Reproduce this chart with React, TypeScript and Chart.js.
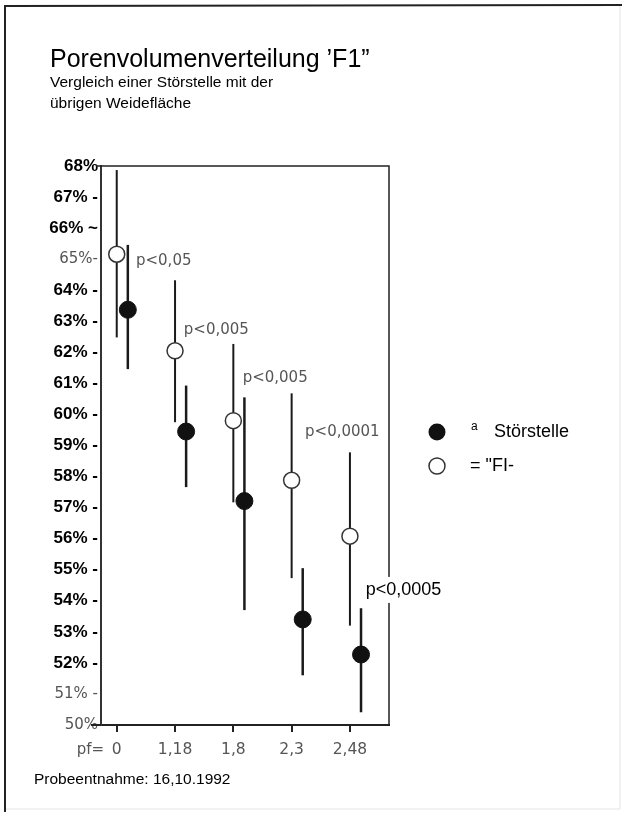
import React, { useEffect, useRef } from "react";
import { Chart, registerables } from "chart.js";
Chart.register(...registerables);

const categories = ["0", "1,18", "1,8", "2,3", "2,48"];
const weideMean = [65.16, 62.05, 59.8, 57.88, 56.08];
const weideLow = [62.48, 59.75, 57.17, 54.73, 53.2];
const weideHigh = [67.87, 64.32, 62.27, 60.68, 58.78];
const stoerMean = [63.37, 59.45, 57.21, 53.4, 52.27];
const stoerLow = [61.46, 57.66, 53.7, 51.6, 50.41];
const stoerHigh = [65.46, 60.93, 60.55, 55.05, 53.76];
const stoerOffset = 0.19;

const yTickLabels = [
  "50%", "51% -", "52% -", "53% -", "54% -", "55% -", "56% -", "57% -", "58% -", "59% -",
  "60% -", "61% -", "62% -", "63% -", "64% -", "65%-", "66% ~", "67% -", "68%",
];
const grayTicks = [50, 51, 65];

const pLabels = ["p<0,05", "p<0,005", "p<0,005", "p<0,0001", "p<0,0005"];
const pLabelX = [0.33, 1.15, 2.16, 3.23, 4.27];
const pLabelY = [64.95, 62.7, 61.16, 59.43, 54.35];

const titleText = "Porenvolumenverteilung \u2019F1\u201D";
const subtitleLines = ["Vergleich einer Störstelle mit der", "übrigen Weidefläche"];
const footText = "Probeentnahme: 16,10.1992";
const xPrefix = "pf=";

const decor = {
  id: "decor",
  beforeDatasetsDraw(chart: any) {
    const { ctx, scales } = chart;
    const x = scales.x, y = scales.y;
    ctx.save();
    ctx.lineCap = "butt";
    ctx.strokeStyle = "#1a1a1a";
    for (let i = 0; i < categories.length; i++) {
      ctx.lineWidth = 2;
      const px = x.getPixelForValue(i);
      ctx.beginPath();
      ctx.moveTo(px, y.getPixelForValue(weideHigh[i]));
      ctx.lineTo(px, y.getPixelForValue(weideLow[i]));
      ctx.stroke();
      ctx.lineWidth = 2.5;
      const qx = x.getPixelForValue(i + stoerOffset);
      ctx.beginPath();
      ctx.moveTo(qx, y.getPixelForValue(stoerHigh[i]));
      ctx.lineTo(qx, y.getPixelForValue(stoerLow[i]));
      ctx.stroke();
    }
    ctx.restore();
  },
  afterDraw(chart: any) {
    const { ctx, chartArea, scales } = chart;
    const x = scales.x, y = scales.y;
    const { left, right, top, bottom } = chartArea;
    ctx.save();
    // outer frame
    ctx.strokeStyle = "#222";
    ctx.lineWidth = 2;
    ctx.beginPath();
    ctx.moveTo(5, 812);
    ctx.lineTo(5, 6);
    ctx.lineTo(622, 5);
    ctx.stroke();
    ctx.strokeStyle = "#e4e4e4";
    ctx.lineWidth = 1;
    ctx.beginPath();
    ctx.moveTo(6, 809);
    ctx.lineTo(620, 809);
    ctx.lineTo(620, 6);
    ctx.stroke();
    // plot frame top/right
    ctx.strokeStyle = "#222";
    ctx.lineWidth = 1.5;
    ctx.beginPath();
    ctx.moveTo(left - 5, top);
    ctx.lineTo(right, top);
    ctx.lineTo(right, bottom);
    ctx.stroke();
    ctx.beginPath();
    ctx.lineWidth = 2;
    ctx.moveTo(left - 10, bottom);
    ctx.lineTo(left, bottom);
    ctx.stroke();

    // title
    ctx.fillStyle = "#000";
    ctx.textAlign = "left";
    ctx.textBaseline = "middle";
    ctx.font = "25px 'Liberation Sans', Arial, sans-serif";
    ctx.fillText(titleText, 50, 60);
    ctx.font = "15.5px 'Liberation Sans', Arial, sans-serif";
    ctx.fillText(subtitleLines[0], 50, 83);
    ctx.fillText(subtitleLines[1], 50, 104);

    // p labels
    for (let i = 0; i < pLabels.length; i++) {
      const px = x.getPixelForValue(pLabelX[i]);
      const py = y.getPixelForValue(pLabelY[i]);
      if (i === pLabels.length - 1) {
        ctx.font = "18px 'Liberation Sans', Arial, sans-serif";
        const w = ctx.measureText(pLabels[i]).width;
        ctx.fillStyle = "#fff";
        ctx.fillRect(px - 3, py - 13, w + 6, 26);
        ctx.fillStyle = "#000";
      } else {
        ctx.font = "15px 'DejaVu Sans', sans-serif";
        ctx.fillStyle = "#555";
      }
      ctx.fillText(pLabels[i], px, py);
    }

    // pf= prefix
    ctx.font = "15px 'DejaVu Sans', sans-serif";
    ctx.fillStyle = "#555";
    ctx.textAlign = "right";
    ctx.fillText(xPrefix, left + 3, bottom + 25);

    // footer
    ctx.textAlign = "left";
    ctx.fillStyle = "#000";
    ctx.font = "15.5px 'Liberation Sans', Arial, sans-serif";
    ctx.fillText(footText, 34, 780);

    // legend
    ctx.fillStyle = "#111";
    ctx.beginPath();
    ctx.arc(437, 432, 8.5, 0, Math.PI * 2);
    ctx.fill();
    ctx.strokeStyle = "#333";
    ctx.lineWidth = 1.5;
    ctx.beginPath();
    ctx.arc(437, 466, 8, 0, Math.PI * 2);
    ctx.stroke();
    ctx.fillStyle = "#000";
    ctx.font = "12px 'Liberation Sans', Arial, sans-serif";
    ctx.fillText("a", 471, 427);
    ctx.font = "18px 'Liberation Sans', Arial, sans-serif";
    ctx.fillText("Störstelle", 494, 432);
    ctx.fillText("= \"FI-", 470, 466);
    ctx.restore();
  },
};

export default function App() {
  const ref = useRef<HTMLCanvasElement>(null);
  useEffect(() => {
    const chart = new Chart(ref.current as HTMLCanvasElement, {
      type: "scatter",
      data: {
        datasets: [
          {
            label: "FI",
            data: categories.map((_, i) => ({ x: i, y: weideMean[i] })),
            pointRadius: 8,
            pointBackgroundColor: "#fff",
            pointBorderColor: "#333",
            pointBorderWidth: 1.5,
            showLine: false,
          },
          {
            label: "Störstelle",
            data: categories.map((_, i) => ({ x: i + stoerOffset, y: stoerMean[i] })),
            pointRadius: 8.5,
            pointBackgroundColor: "#111",
            pointBorderColor: "#111",
            pointBorderWidth: 1,
            showLine: false,
          },
        ],
      },
      options: {
        animation: false,
        responsive: false,
        maintainAspectRatio: false,
        layout: { padding: { top: 166, right: 235, left: 0, bottom: 0 } },
        plugins: { legend: { display: false }, tooltip: { enabled: false }, title: { display: false } },
        scales: {
          x: {
            type: "linear",
            min: -0.27,
            max: 4.67,
            afterBuildTicks: (scale: any) => {
              scale.ticks = categories.map((_, i) => ({ value: i }));
            },
            afterFit: (scale: any) => {
              scale.height = 88;
            },
            ticks: {
              callback: (v: any) => categories[v as number] ?? "",
              font: { family: "'DejaVu Sans', sans-serif", size: 15.5 },
              color: "#555",
              padding: 9,
              maxRotation: 0,
              autoSkip: false,
            },
            grid: { drawOnChartArea: false, drawTicks: true, tickLength: 7, color: "#222", lineWidth: 2 },
            border: { display: true, color: "#222", width: 2 },
          },
          y: {
            min: 50,
            max: 68,
            afterBuildTicks: (scale: any) => {
              scale.ticks = yTickLabels.map((_, i) => ({ value: 50 + i }));
            },
            afterFit: (scale: any) => {
              scale.width = 101;
            },
            ticks: {
              callback: (v: any) => yTickLabels[(v as number) - 50] ?? "",
              font: (c: any) =>
                grayTicks.includes(c.tick?.value)
                  ? { family: "'DejaVu Sans', sans-serif", size: 15, weight: "normal" }
                  : { family: "'Liberation Sans', Arial, sans-serif", size: 17, weight: "bold" },
              color: (c: any) => (grayTicks.includes(c.tick?.value) ? "#555" : "#000"),
              padding: 3,
              autoSkip: false,
            },
            grid: { drawOnChartArea: false, drawTicks: false },
            border: { display: true, color: "#333", width: 2 },
          },
        },
      },
      plugins: [decor],
    } as any);
    return () => chart.destroy();
  }, []);
  return (
    <div style={{ position: "absolute", left: 0, top: 0, width: 624, height: 813, background: "#fff" }}>
      <canvas ref={ref} width={624} height={813} style={{ display: "block", width: 624, height: 813 }} />
    </div>
  );
}
